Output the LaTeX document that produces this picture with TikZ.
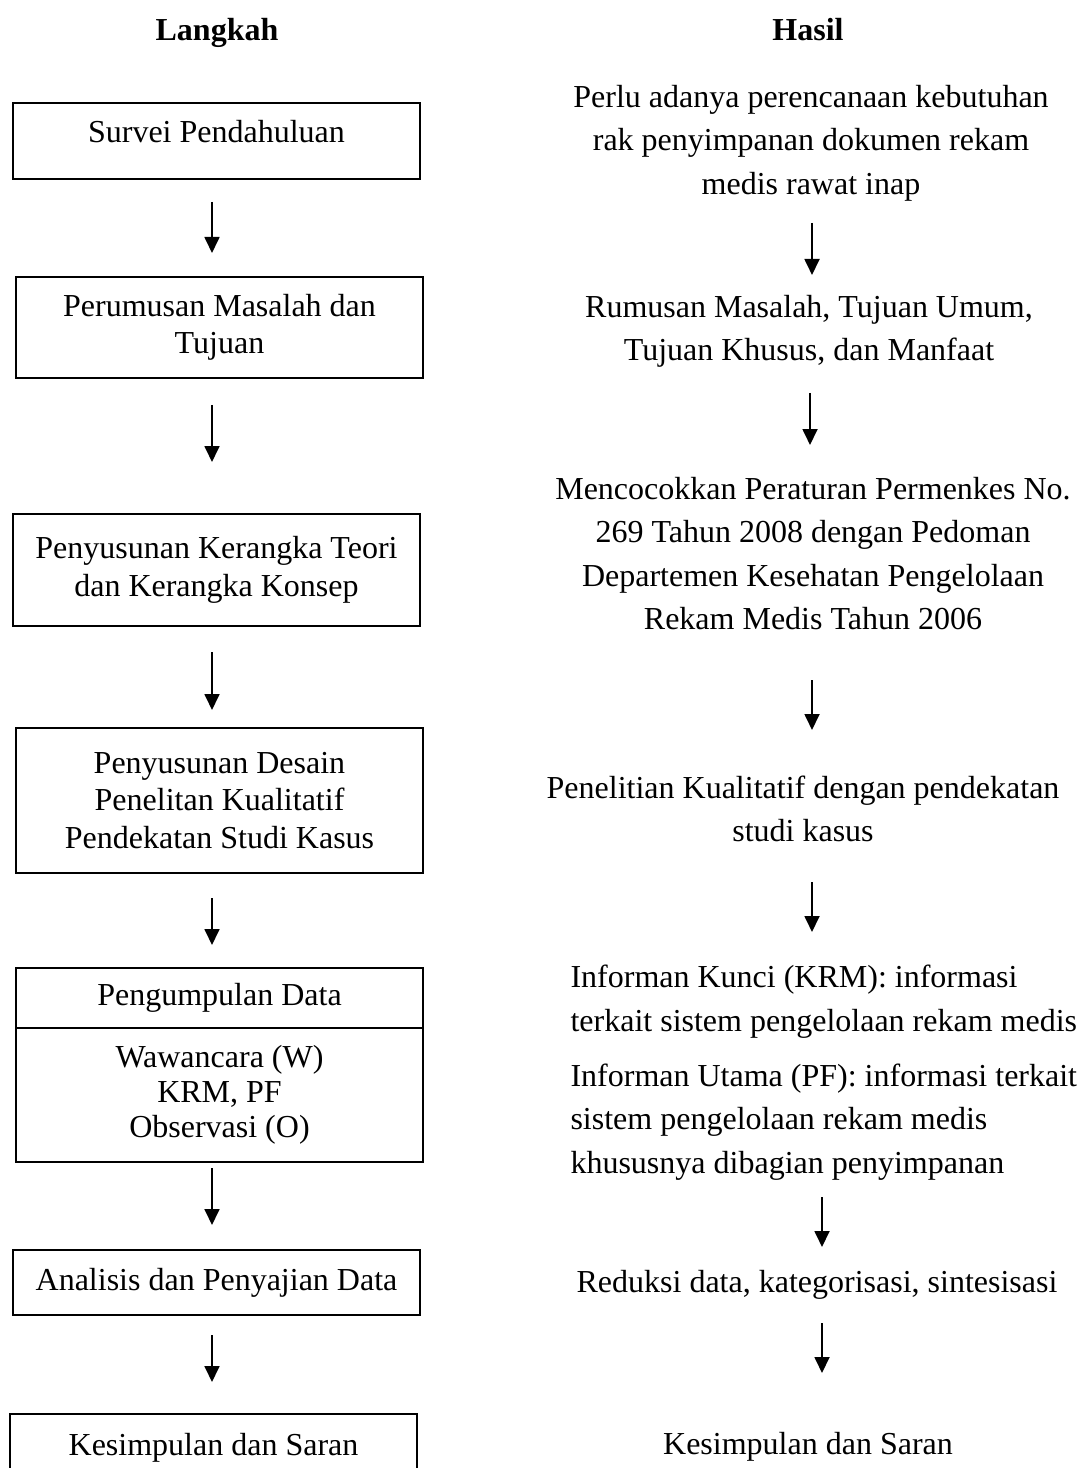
\documentclass[tikz,border=0pt]{standalone}
\usepackage{fontspec}
\setmainfont{Liberation Serif}
\usetikzlibrary{arrows.meta}

\begin{document}
\begin{tikzpicture}[x=0.375pt, y=-0.375pt,
langkah/.style={draw, line width=0.7pt, minimum width=152.6pt, inner sep=0pt, align=center, font=\fontsize{12}{14}\selectfont},
hasil/.style={inner sep=0pt, align=center, font=\fontsize{12}{16.3}\selectfont},
judul/.style={inner sep=0pt, text height=8pt, text depth=0pt, font=\fontsize{12}{14}\selectfont\bfseries},
panah/.style={line width=0.75pt, -{Triangle[length=6pt,width=5.6pt]}}]
\useasboundingbox (0,0) rectangle (1082,1468);
\node[judul] (jlangkah) at (217,30) {Langkah};
\node[judul] (jhasil) at (808,30) {Hasil};
% langkah
\node[langkah, minimum height=28.5pt, text depth=7pt] (survei) at (216.5,141) {Survei Pendahuluan};
\node[langkah, minimum height=37.9pt] (rumusan) at (219.5,327.5) {Perumusan Masalah dan\\Tujuan};
\node[langkah, minimum height=42pt] (kerangka) at (216.5,570) {Penyusunan Kerangka Teori\\dan Kerangka Konsep};
\node[langkah, minimum height=54.4pt] (desain) at (219.5,800.5) {Penyusunan Desain\\Penelitan Kualitatif\\Pendekatan Studi Kasus};
\node[langkah, minimum height=22.5pt] (kumpul) at (219.5,998) {Pengumpulan Data};
\node[langkah, minimum height=50.25pt, font=\fontsize{12}{13.2}\selectfont] (cara) at (219.5,1095) {Wawancara (W)\\KRM, PF\\Observasi (O)};
\node[langkah, minimum height=24.4pt] (analisis) at (216.5,1282.5) {Analisis dan Penyajian Data};
\node[langkah, minimum height=25.5pt, text depth=3pt] (simpul) at (213.5,1448) {Kesimpulan dan Saran};
% hasil
\node[hasil] (hperlu) at (811,143) {Perlu adanya perencanaan kebutuhan\\rak penyimpanan dokumen rekam\\medis rawat inap};
\node[hasil] (hrumusan) at (809,331.5) {Rumusan Masalah, Tujuan Umum,\\Tujuan Khusus, dan Manfaat};
\node[hasil] (hcocok) at (813,553.5) {Mencocokkan Peraturan Permenkes No.\\269 Tahun 2008 dengan Pedoman\\Departemen Kesehatan Pengelolaan\\Rekam Medis Tahun 2006};
\node[hasil] (hteliti) at (803,809) {Penelitian Kualitatif dengan pendekatan\\studi kasus};
\node[hasil, anchor=west, align=left] (hkunci) at (570,1001.5) {Informan Kunci (KRM): informasi\\terkait sistem pengelolaan rekam medis};
\node[hasil, anchor=west, align=left] (hutama) at (570,1122) {Informan Utama (PF): informasi terkait\\sistem pengelolaan rekam medis\\khususnya dibagian penyimpanan};
\node[hasil] (hreduksi) at (817,1285) {Reduksi data, kategorisasi, sintesisasi};
\node[hasil] (hsimpul) at (808,1447) {Kesimpulan dan Saran};
% panah
\foreach \i/\xa/\ya/\yb in {1/212/202/253, 2/212/405/462, 3/212/652/710, 4/212/898/945, 5/212/1168/1225, 6/212/1335/1382,
  7/812/223/275, 8/810/393/445, 9/812/680/730, 10/812/882/932, 11/822/1197/1247, 12/822/1323/1373}{
  \coordinate (p\i a) at (\xa,\ya);
  \coordinate (p\i b) at (\xa,\yb);
  \draw[panah] (p\i a) -- (p\i b);
}
\end{tikzpicture}
\end{document}
